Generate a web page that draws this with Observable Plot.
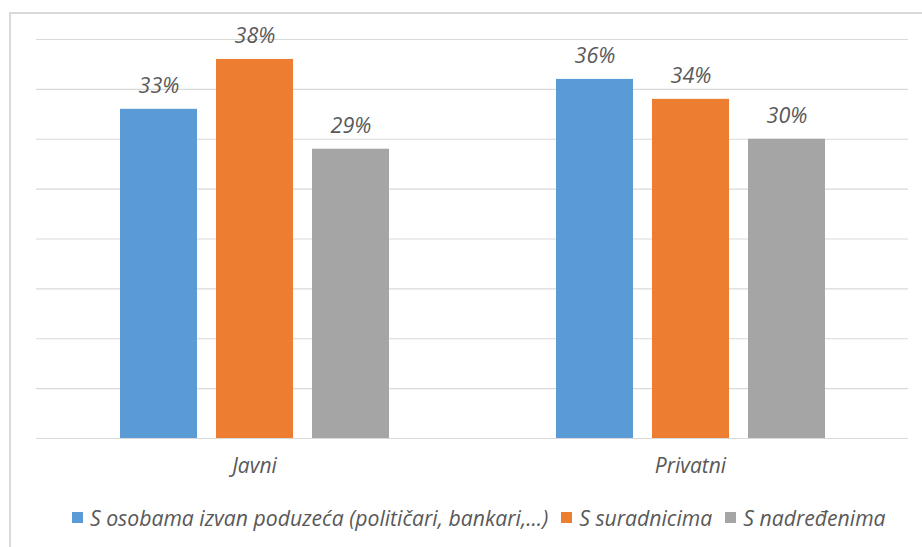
<!DOCTYPE html>
<html>
<head>
<meta charset="utf-8">
<script src="https://cdn.jsdelivr.net/npm/d3@7"></script>
<script src="https://cdn.jsdelivr.net/npm/@observablehq/plot@0.6"></script>
<style>
  html, body { margin: 0; padding: 0; background: #fff; }
  #wrap { position: relative; width: 922px; height: 547px; overflow: hidden; background: #fff; }
  #frame { position: absolute; left: 9px; top: 12px; width: 1000px; height: 700px; border: 2px solid #d9d9d9; box-sizing: border-box; pointer-events: none; }
  #chart { position: absolute; left: 0; top: 0; }
  #legend { position: absolute; left: 72px; top: 502px; height: 30px; display: flex; align-items: center;
            font-family: "Open Sans", Lato, sans-serif; font-style: italic; font-size: 21.2px; color: #595959; white-space: nowrap; }
  .item { display: flex; align-items: center; margin-right: 13px; }
  .sw { width: 11px; height: 11px; margin-right: 7px; display: inline-block; }
</style>
</head>
<body>
<div id="wrap">
  <div id="frame"></div>
  <div id="chart"></div>
  <div id="legend"></div>
</div>
<script>
const groups = ["Javni", "Privatni"];
const series = ["S osobama izvan poduzeća (političari, bankari,...)", "S suradnicima", "S nadređenima"];
const javni = [33, 38, 29];
const privatni = [36, 34, 30];
const yTicks = [0, 5, 10, 15, 20, 25, 30, 35, 40];
const colors = ["#5B9BD5", "#ED7D31", "#A5A5A5"];

const groupValues = [javni, privatni];
const data = groups.flatMap((g, i) => series.map((s, j) => ({group: g, series: s, value: groupValues[i][j]})));

const chart = Plot.plot({
  width: 922,
  height: 490,
  marginTop: 39,
  marginBottom: 52,
  marginLeft: 36,
  marginRight: 14,
  style: {fontFamily: "'Open Sans', Lato, sans-serif", fontStyle: "italic", color: "#595959", background: "transparent"},
  fx: {domain: groups, padding: 0, label: null, axis: null},
  x: {domain: series, axis: null, paddingInner: 0.2, paddingOuter: 0.85},
  y: {domain: [0, 40], axis: null},
  color: {domain: series, range: colors},
  marks: [
    Plot.ruleY(yTicks, {stroke: "#d9d9d9", strokeWidth: 1.2}),
    Plot.barY(data, {fx: "group", x: "series", y: "value", fill: "series"}),
    Plot.text(data, {fx: "group", x: "series", y: "value", text: d => d.value + "%", dy: -23,
      fontSize: 21.5, fill: "#595959"}),
    Plot.axisFx({anchor: "bottom", tickSize: 0, tickPadding: 20, fontSize: 21, label: null, color: "#595959"})
  ]
});
document.getElementById("chart").appendChild(chart);

const legend = document.getElementById("legend");
series.forEach((s, i) => {
  const item = document.createElement("span");
  item.className = "item";
  const sw = document.createElement("span");
  sw.className = "sw";
  sw.style.background = colors[i];
  item.appendChild(sw);
  item.appendChild(document.createTextNode(s));
  legend.appendChild(item);
});
</script>
</body>
</html>
